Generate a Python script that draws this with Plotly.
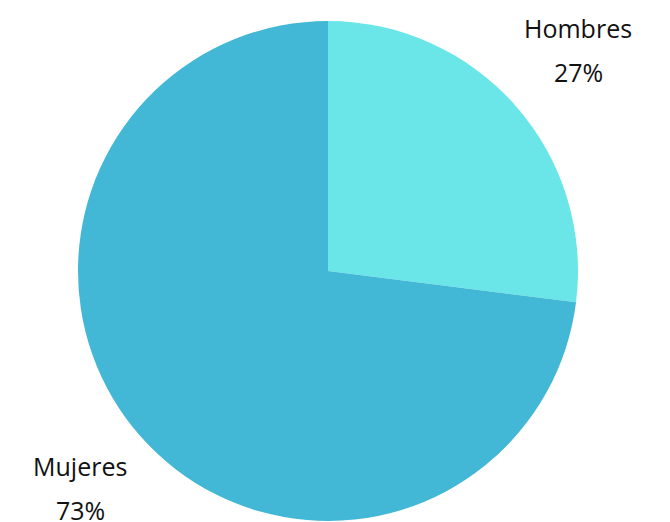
import plotly.graph_objects as go

labels = ["Hombres", "Mujeres"]
values = [27, 73]
colors = ["#6ae6e9", "#43b7d6"]

W, H = 670, 522
OFF = 8  # page body margin puts the figure at (8, 8)
cx, cy, r = 328 - OFF, 271 - OFF, 250  # pie centre / radius in figure px

fig = go.Figure()
fig.add_trace(go.Pie(
    labels=labels, values=values, sort=False, direction="clockwise",
    rotation=0, textinfo="none", hoverinfo="label+percent",
    marker=dict(colors=colors, line=dict(width=0)),
    domain=dict(x=[(cx - r) / W, (cx + r) / W],
                y=[(H - cy - r) / H, (H - cy + r) / H]),
    showlegend=False,
))

# label positions (page px) for each slice: name line then percent line
label_pos = [(578, 28, 72), (80, 466, 510)]
total = sum(values)
for lab, val, (x, y1, y2) in zip(labels, values, label_pos):
    for txt, y in [(lab, y1), (f"{round(100 * val / total)}%", y2)]:
        fig.add_annotation(x=(x - OFF) / W, y=1 - (y - OFF) / H,
                           xref="paper", yref="paper",
                           text=txt, showarrow=False, xanchor="center",
                           yanchor="middle",
                           font=dict(family="Open Sans", size=25, color="#111111"))

fig.update_layout(width=W, height=H, margin=dict(l=0, r=0, t=0, b=0),
                  paper_bgcolor="white", plot_bgcolor="white")
fig.write_html("out.html")
